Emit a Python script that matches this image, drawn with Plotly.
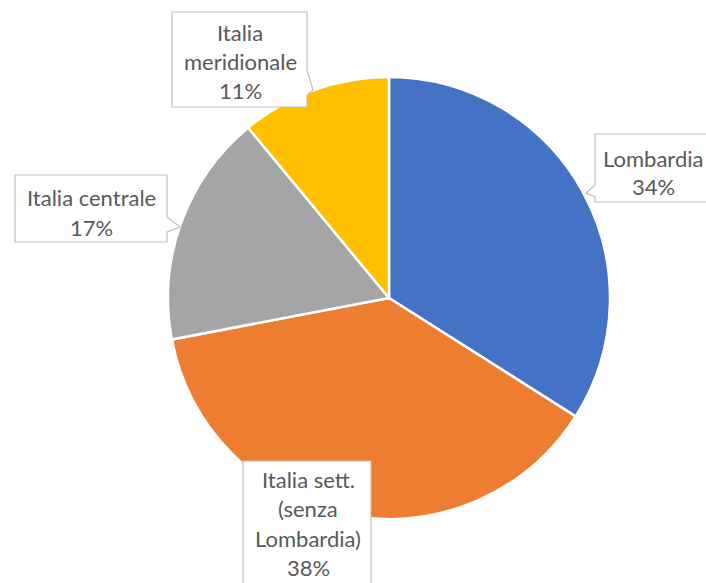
import plotly.graph_objects as go

W, H = 706, 583

labels = ["Lombardia", "Italia sett.<br>(senza<br>Lombardia)", "Italia centrale", "Italia<br>meridionale"]
values = [34, 38, 17, 11]
colors = ["#4472C4", "#ED7D31", "#A5A5A5", "#FFC000"]

def px(x):
    return x / W

def py(y):
    return 1 - y / H

cx, cy, r = 389, 298, 221

fig = go.Figure(go.Pie(
    labels=labels,
    values=values,
    sort=False,
    direction="clockwise",
    rotation=0,
    marker=dict(colors=colors, line=dict(color="white", width=2.5)),
    textinfo="none",
    hoverinfo="label+percent",
    showlegend=False,
    domain=dict(x=[px(cx - r), px(cx + r)], y=[py(cy + r), py(cy - r)]),
))

def path(points):
    pts = [f"{px(x)},{py(y)}" for x, y in points]
    return "M " + " L ".join(pts) + " Z"

callouts = [
    # meridionale
    [(172, 12), (307, 12), (307, 70), (313, 90), (307, 95), (307, 107), (172, 107)],
    # lombardia
    [(595, 134), (710, 134), (710, 202), (595, 202), (595, 197), (586, 193), (595, 185)],
    # centrale
    [(15, 175), (167, 175), (167, 217), (180, 227), (167, 232), (167, 242), (15, 242)],
    # sett
    [(243, 461), (371, 461), (371, 600), (243, 600)],
]
shapes = []
for c in callouts:
    shapes.append(dict(type="path", xref="paper", yref="paper", path=path(c),
                       fillcolor="white", line=dict(color="#BFBFBF", width=1.2), layer="above"))

text_pos = [
    (653, 158, 28),   # Lombardia
    (308, 479, 29.5), # sett
    (91, 198, 30),    # centrale
    (240, 33, 29),    # meridionale
]
total = sum(values)
annotations = []
for lab, v, (tx, ty, dy) in zip(labels, values, text_pos):
    lines = lab.split("<br>") + [f"{round(100 * v / total)}%"]
    for i, ln in enumerate(lines):
        annotations.append(dict(x=px(tx), y=py(ty + i * dy), xref="paper", yref="paper",
                                text=ln, showarrow=False, xanchor="center", yanchor="middle",
                                font=dict(family="Lato", size=22, color="#595959")))

fig.update_layout(
    width=W, height=H,
    margin=dict(l=0, r=0, t=0, b=0),
    paper_bgcolor="white",
    plot_bgcolor="white",
    shapes=shapes,
    annotations=annotations,
)

fig.write_html("out.html", config={"displayModeBar": False},
               post_script="document.body.style.margin='0';document.body.style.padding='0';")
